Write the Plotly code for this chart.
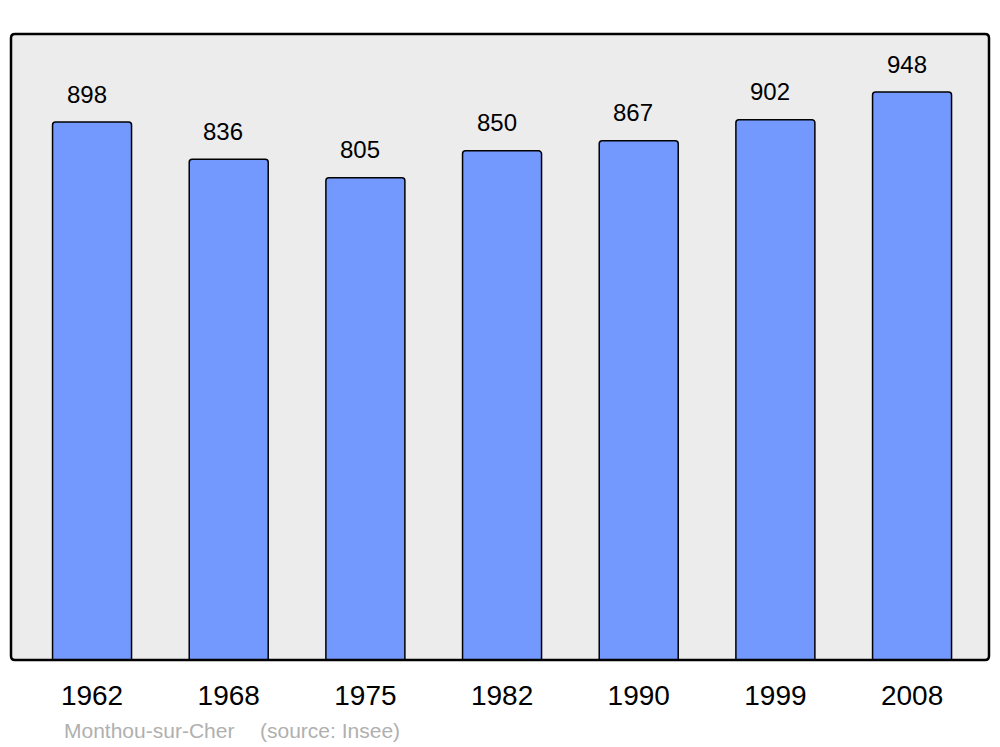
import plotly.graph_objects as go

years = ["1962", "1968", "1975", "1982", "1990", "1999", "2008"]
population = [898, 836, 805, 850, 867, 902, 948]
commune = "Monthou-sur-Cher"
source = "(source: Insee)"

W, H = 1000, 747
L, R, T, B = 11, 11, 34, 87
pw = W - L - R
ph = H - T - B

fig = go.Figure()
fig.add_trace(go.Bar(
    x=list(range(len(years))), y=population,
    width=0.578,
    marker=dict(color="#7399ff", line=dict(color="#000000", width=1.5), cornerradius=3),
    hoverinfo="skip",
))

for i, v in enumerate(population):
    fig.add_annotation(x=i, y=v, text=str(v), showarrow=False, yshift=28, xshift=-5.5,
                       font=dict(family="Liberation Sans, Arial", size=24, color="#000"))

ys = -(730 - (H - B)) / ph
fig.add_annotation(xref="paper", yref="paper", x=(62 - L) / pw, y=ys,
                   text=commune, showarrow=False, xanchor="left", yanchor="middle",
                   font=dict(family="Liberation Sans, Arial", size=21, color="#b0b0b0"))
fig.add_annotation(xref="paper", yref="paper", x=(258 - L) / pw, y=ys,
                   text=source, showarrow=False, xanchor="left", yanchor="middle",
                   font=dict(family="Liberation Sans, Arial", size=21, color="#b0b0b0"))

rx, ry = 4 / pw, 4 / ph
path = (f"M {rx},0 L {1-rx},0 Q 1,0 1,{ry} L 1,{1-ry} Q 1,1 {1-rx},1 "
        f"L {rx},1 Q 0,1 0,{1-ry} L 0,{ry} Q 0,0 {rx},0 Z")
fig.add_shape(type="path", xref="paper", yref="paper", path=path,
              line=dict(color="#000", width=2.5), fillcolor="rgba(0,0,0,0)", layer="above")

fig.update_layout(
    width=W, height=H,
    margin=dict(l=L, r=R, t=T, b=B),
    paper_bgcolor="#ffffff", plot_bgcolor="#ececec",
    showlegend=False,
    xaxis=dict(range=[-0.593, 6.563], tickvals=list(range(len(years))), ticktext=years,
               showgrid=False, zeroline=False, showline=False, ticks="",
               tickfont=dict(family="Liberation Sans, Arial", size=28, color="#000"), ticklabelstandoff=16),
    yaxis=dict(range=[0, 1045], showgrid=False, zeroline=False, showticklabels=False, ticks=""),
)

fig.write_html("out.html", config={"displayModeBar": False},
               post_script="document.body.style.margin='0';")
